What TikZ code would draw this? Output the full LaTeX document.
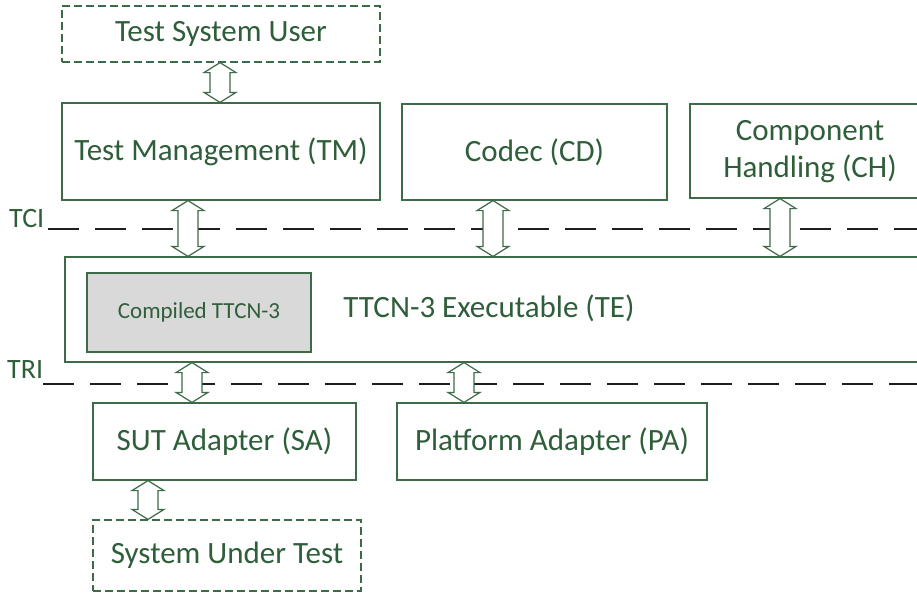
\documentclass[tikz,border=0pt]{standalone}
\usepackage{fontspec}
\setmainfont{Carlito}
\usetikzlibrary{calc}
\definecolor{boxline}{HTML}{3D6B47}
\definecolor{boxtext}{HTML}{2F5E3A}
\definecolor{ifline}{HTML}{1E1E1E}
\definecolor{compfill}{HTML}{D9D9D9}
\tikzset{
  box/.style={draw=boxline, line width=1.2pt, rectangle, inner sep=0pt,
    text=boxtext, font=\fontsize{31}{37}\selectfont, align=center},
  dashbox/.style={box, dash pattern=on 8pt off 4pt},
  innerbox/.style={box, fill=compfill, font=\fontsize{23}{28}\selectfont},
  boxlabel/.style={text=boxtext, font=\fontsize{31}{37}\selectfont, align=center, inner sep=0pt},
  iflabel/.style={text=boxtext, font=\fontsize{28}{34}\selectfont, inner sep=0pt},
  ifline/.style={draw=ifline, line width=1.8pt, dash pattern=on 31pt off 16pt},
  blockarrow/.style={draw=boxline, fill=white, line width=1.2pt, line join=miter},
}
% hollow double-headed block arrow from (#1) down to (#2)
\newcommand\twowayarrow[2]{%
  \draw[blockarrow] (#1) -- ($(#1)+(-16,10)$) -- ($(#1)+(-10,10)$)
    -- ($(#2)+(-10,-10)$) -- ($(#2)+(-16,-10)$) -- (#2)
    -- ($(#2)+(16,-10)$) -- ($(#2)+(10,-10)$)
    -- ($(#1)+(10,10)$) -- ($(#1)+(16,10)$) -- cycle;}
\begin{document}
\begin{tikzpicture}[x=1pt,y=-1pt]
\useasboundingbox (0,0) rectangle (917,592);
\fill[white] (0,0) rectangle (917,592);
\clip (0,0) rectangle (917,592);

% upper layer
\node[dashbox, minimum width=318pt, minimum height=56pt] (tsu) at (221,34) {Test System User};
\node[box, minimum width=318pt, minimum height=97pt] (tm) at (221,151.5) {Test Management (TM)};
\node[box, minimum width=265pt, minimum height=96pt] (cd) at (534.5,152) {Codec (CD)};
% the handling box runs on past the right edge
\node[box, minimum width=270pt, minimum height=94pt] (ch) at (825,151) {};
\node[boxlabel] (chtext) at (810,152) {Component\\Handling (CH)};

% executable
\node[box, minimum width=875pt, minimum height=105pt] (te) at (502.5,309.5) {};
\node[boxlabel] (tetext) at (489,308) {TTCN-3 Executable (TE)};
\node[innerbox, minimum width=224pt, minimum height=79pt] (comp) at (199,312.5) {Compiled TTCN-3};

% adapters and SUT
\node[box, minimum width=263pt, minimum height=77pt] (sa) at (224.5,441.5) {SUT Adapter (SA)};
\node[box, minimum width=310pt, minimum height=77pt] (pa) at (552,441.5) {Platform Adapter (PA)};
\node[dashbox, minimum width=268pt, minimum height=71pt] (sut) at (227,555.5) {System Under Test};

% interfaces
\node[iflabel, anchor=base west] (tci) at (9,227) {TCI};
\node[iflabel, anchor=base west] (tri) at (7,378) {TRI};
\coordinate (tcis) at (48,229);
\coordinate (tcie) at (917,229);
\coordinate (tris) at (43,384);
\coordinate (trie) at (917,384);
\draw[ifline] (tcis) -- (tcie);
\draw[ifline] (tris) -- (trie);

% arrow end points
\coordinate (a1t) at ([xshift=-1pt]tsu.south);
\coordinate (a1b) at (tm.north -| a1t);
\coordinate (a2t) at ([xshift=-33pt]tm.south);
\coordinate (a2b) at (te.north -| a2t);
\coordinate (a3t) at ([xshift=-41.5pt]cd.south);
\coordinate (a3b) at (te.north -| a3t);
\coordinate (a4t) at ([xshift=-45pt]ch.south);
\coordinate (a4b) at (te.north -| a4t);
\coordinate (a5b) at ([xshift=-32.5pt]sa.north);
\coordinate (a5t) at (te.south -| a5b);
\coordinate (a6b) at ([xshift=-88pt]pa.north);
\coordinate (a6t) at (te.south -| a6b);
\coordinate (a7t) at ([xshift=-76.5pt]sa.south);
\coordinate (a7b) at (sut.north -| a7t);

\twowayarrow{a1t}{a1b}
\twowayarrow{a2t}{a2b}
\twowayarrow{a3t}{a3b}
\twowayarrow{a4t}{a4b}
\twowayarrow{a5t}{a5b}
\twowayarrow{a6t}{a6b}
\twowayarrow{a7t}{a7b}
\end{tikzpicture}
\end{document}
